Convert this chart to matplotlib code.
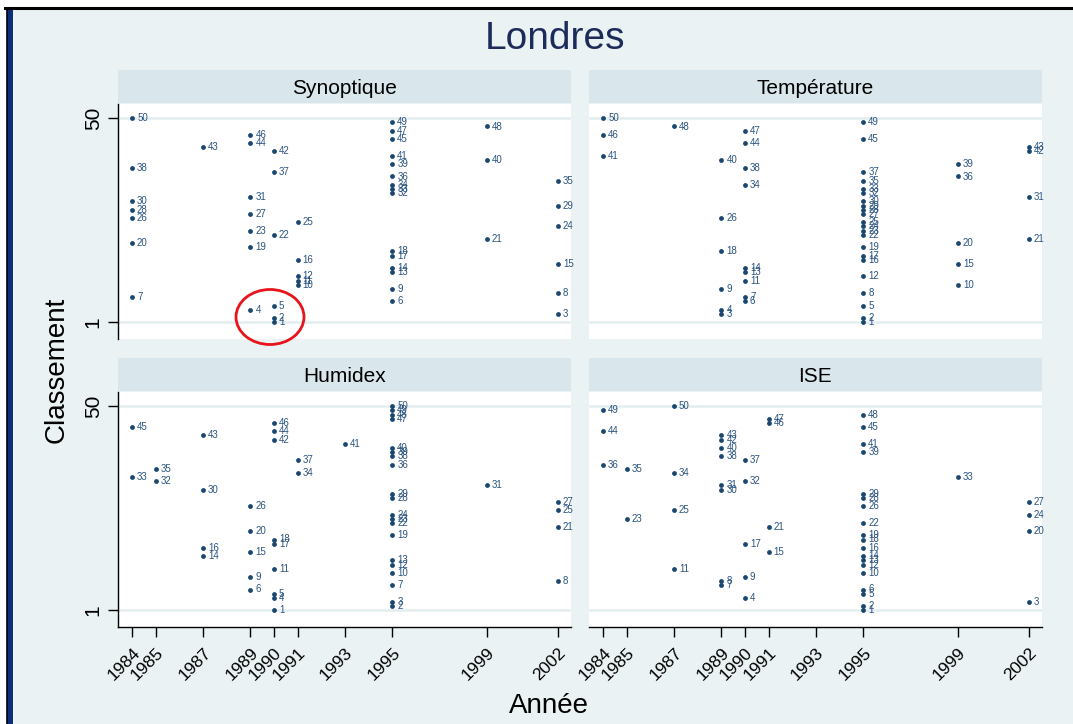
import matplotlib
matplotlib.use("Agg")
import matplotlib.pyplot as plt
from matplotlib.patches import Ellipse, Rectangle

plt.rcParams["font.family"] = ["Liberation Sans", "DejaVu Sans"]

# ----- data: year of each rank (rank 1 .. 50) -----
ranks = list(range(1, 51))

synoptique = [1990, 1990, 2002, 1989, 1990, 1995, 1984, 2002, 1995, 1991,
              1991, 1991, 1995, 1995, 2002, 1991, 1995, 1995, 1989, 1984,
              1999, 1990, 1989, 2002, 1991, 1984, 1989, 1984, 2002, 1984,
              1989, 1995, 1995, 1995, 2002, 1995, 1990, 1984, 1995, 1999,
              1995, 1990, 1987, 1989, 1995, 1989, 1995, 1999, 1995, 1984]

temperature = [1995, 1995, 1989, 1989, 1995, 1990, 1990, 1995, 1989, 1999,
               1990, 1995, 1990, 1990, 1999, 1995, 1995, 1989, 1995, 1999,
               2002, 1995, 1995, 1995, 1995, 1989, 1995, 1995, 1995, 1995,
               2002, 1995, 1995, 1990, 1995, 1999, 1995, 1990, 1999, 1989,
               1984, 2002, 2002, 1990, 1995, 1984, 1990, 1987, 1995, 1984]

humidex = [1990, 1995, 1995, 1990, 1990, 1989, 1995, 2002, 1989, 1995,
           1990, 1995, 1995, 1987, 1989, 1987, 1990, 1990, 1995, 1989,
           2002, 1995, 1995, 1995, 2002, 1989, 2002, 1995, 1995, 1987,
           1999, 1985, 1984, 1991, 1985, 1995, 1991, 1995, 1995, 1995,
           1993, 1990, 1987, 1990, 1984, 1990, 1995, 1995, 1995, 1995]

ise = [1995, 1995, 2002, 1990, 1995, 1995, 1989, 1989, 1990, 1995,
       1987, 1995, 1995, 1995, 1991, 1995, 1990, 1995, 1995, 2002,
       1991, 1995, 1985, 2002, 1987, 1995, 2002, 1995, 1995, 1989,
       1989, 1990, 1999, 1987, 1985, 1984, 1990, 1989, 1995, 1989,
       1995, 1989, 1989, 1984, 1995, 1991, 1991, 1995, 1984, 1987]

panel_titles = ["Synoptique", "Température", "Humidex", "ISE"]
panel_data = [synoptique, temperature, humidex, ise]
year_ticks = [1984, 1985, 1987, 1989, 1990, 1991, 1993, 1995, 1999, 2002]

# ----- style -----
W, H = 1073, 724
bg = "#EAF2F3"
strip_col = "#D9E6EB"
navy = "#1A476F"
grid_col = "#E3EDF0"

fig = plt.figure(figsize=(W / 100, H / 100), dpi=100)
fig.patch.set_facecolor("white")

def frac(x0, y0, x1, y1):
    # pixel box (top-left origin) -> figure fraction rect
    return [x0 / W, 1 - y1 / H, (x1 - x0) / W, (y1 - y0) / H]

# graph region + the dark frame bits (kept behind the axes)
fig.patches.append(Rectangle((6 / W, 0), 1, 1 - 8 / H, transform=fig.transFigure,
                             facecolor=bg, edgecolor="none", zorder=-10))
fig.patches.append(Rectangle((7 / W, 0), 5.5 / W, 1 - 9 / H, transform=fig.transFigure,
                             facecolor="#0B2F7A", edgecolor="none", zorder=-9))
fig.add_artist(plt.Line2D([5 / W, 1], [1 - 8 / H, 1 - 8 / H], color="black", lw=2.2,
                          transform=fig.transFigure, zorder=-8))
fig.add_artist(plt.Line2D([6.5 / W, 6.5 / W], [0, 1 - 8 / H], color="black", lw=1.2,
                          transform=fig.transFigure, zorder=-8))

cols = [(118, 571), (589, 1042)]
rows = [(70, 103, 104, 339), (358, 391, 392, 627)]

for i, (title, years) in enumerate(zip(panel_titles, panel_data)):
    r, c = divmod(i, 2)
    x0, x1 = cols[c]
    s0, s1, a0, a1 = rows[r]

    # strip
    sax = fig.add_axes(frac(x0, s0, x1, s1))
    sax.set_facecolor(strip_col)
    sax.set_xticks([])
    sax.set_yticks([])
    for sp in sax.spines.values():
        sp.set_visible(False)
    sax.text(0.5, 0.45, title, ha="center", va="center", fontsize=15, color="black",
             transform=sax.transAxes)

    ax = fig.add_axes(frac(x0, a0, x1, a1))
    ax.set_facecolor("white")
    ax.set_xlim(1983.4, 2002.55)
    ax.set_ylim(-3.0, 53.4)

    for g in (1, 50):
        ax.axhline(g, color=grid_col, lw=1.8, zorder=1)

    ax.scatter(years, ranks, s=12, color=navy, zorder=3, linewidths=0)
    for yr, rk in zip(years, ranks):
        ax.annotate(str(rk), (yr, rk), xytext=(3.5, 0), textcoords="offset points",
                    ha="left", va="center", fontsize=7, color="#2A5480", zorder=4)

    for sp in ax.spines.values():
        sp.set_visible(False)

    if c == 0:
        ax.spines["left"].set_visible(True)
        ax.spines["left"].set_color("black")
        ax.spines["left"].set_linewidth(1.0)
        ax.set_yticks([1, 50])
        ax.set_yticklabels(["1", "50"], rotation=90, va="center", fontsize=15)
        ax.tick_params(axis="y", length=7, width=1, pad=4)
    else:
        ax.set_yticks([])

    if r == 1:
        ax.spines["bottom"].set_visible(True)
        ax.spines["bottom"].set_color("black")
        ax.spines["bottom"].set_linewidth(1.0)
        ax.set_xticks(year_ticks)
        ax.set_xticklabels([str(y) for y in year_ticks], rotation=45, ha="right",
                           rotation_mode="anchor", fontsize=12.5)
        ax.tick_params(axis="x", length=7, width=1, pad=6)
    else:
        ax.set_xticks([])

# red circle around the early ranks
fig.patches.append(Ellipse((270 / W, 1 - 317 / H), 68 / W, 55 / H,
                           transform=fig.transFigure, fill=False,
                           edgecolor="#E8141B", lw=2, zorder=10))

fig.text(555 / W, 1 - 39 / H, "Londres", ha="center", va="center",
         fontsize=28, color="#1C2B5A")
fig.text(57 / W, 1 - 370 / H, "Classement", ha="center", va="center",
         rotation=90, fontsize=20, color="black")
fig.text(549 / W, 1 - 706 / H, "Année", ha="center", va="center",
         fontsize=20, color="black")

fig.savefig("out.png", dpi=100, facecolor=fig.get_facecolor())
